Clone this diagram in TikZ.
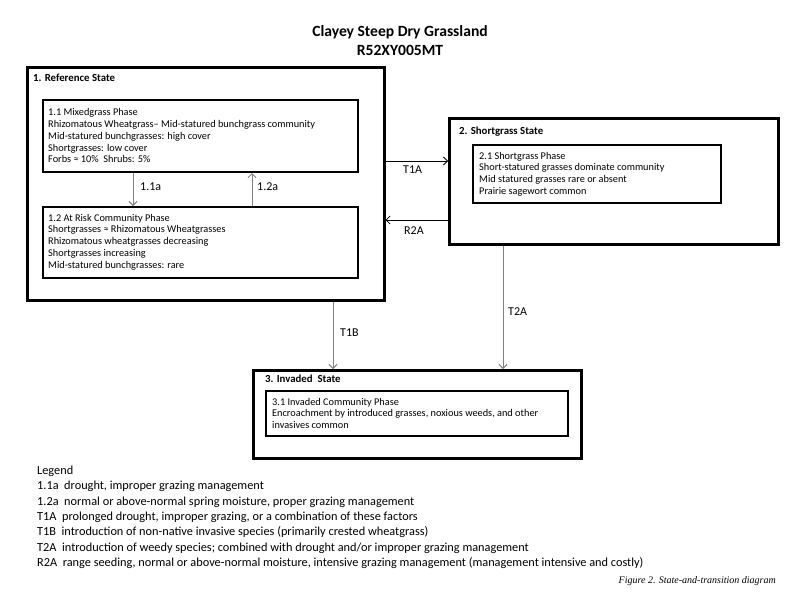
\documentclass[tikz,border=0pt]{standalone}
\usepackage{fontspec}
\setmainfont{Carlito}
\newfontfamily\capfont{Liberation Serif}
\usetikzlibrary{arrows.meta}
\begin{document}
\begin{tikzpicture}[x=1pt,y=-1pt,
  statebox/.style={draw=black, line width=2.6pt, anchor=north west, inner sep=0pt},
  phasebox/.style={draw=black, line width=2pt, anchor=north west, inner sep=0pt},
  statelabel/.style={anchor=west, inner sep=0pt, font=\bfseries\fontsize{10.8}{12}\selectfont},
  phasetext/.style={anchor=north west, inner sep=0pt, align=left, font=\fontsize{10.3}{11.9}\selectfont},
  trans/.style={draw=gray, line width=0.9pt, -{Straight Barb[length=4pt,width=8pt]}},
  transk/.style={draw=black, line width=0.8pt, -{Straight Barb[length=4pt,width=8pt]}},
  elabel/.style={inner sep=0pt, font=\fontsize{12}{14}\selectfont},
  titletext/.style={inner sep=0pt, align=center, font=\bfseries\fontsize{15.6}{19}\selectfont},
  legendtext/.style={anchor=north west, inner sep=0pt, align=left, font=\fontsize{12.3}{15.4}\selectfont},
  captext/.style={anchor=east, inner sep=0pt, font=\capfont\itshape\fontsize{10}{12}\selectfont}
]
\useasboundingbox[fill=white] (0,0) rectangle (800,600);

% title
\node[titletext] (title) at (400,41) {Clayey Steep Dry Grassland\\R52XY005MT};

% states
\node[statebox, minimum width=357pt, minimum height=233pt] (s1) at (26,66) {};
\node[statebox, minimum width=329pt, minimum height=126pt] (s2) at (448,117) {};
\node[statebox, minimum width=328pt, minimum height=88pt] (s3) at (252,369) {};

\node[statelabel] (s1l) at (33,78) {1. Reference State};
\node[statelabel] (s2l) at (459,132) {2. Shortgrass State};
\node[statelabel] (s3l) at (265,379) {3. Invaded\ \ State};

% phases
\node[phasebox, minimum width=315pt, minimum height=72pt] (p11) at (42,99) {};
\node[phasebox, minimum width=315pt, minimum height=71pt] (p12) at (42,206) {};
\node[phasebox, minimum width=248pt, minimum height=58pt] (p21) at (472,144) {};
\node[phasebox, minimum width=302pt, minimum height=45pt] (p31) at (265,390) {};

\node[phasetext] (p11t) at (48,108) {1.1 Mixedgrass Phase\\
Rhizomatous Wheatgrass-- Mid-statured bunchgrass community\\
Mid-statured bunchgrasses: high cover\\
Shortgrasses: low cover\\
Forbs ≈ 10\%\ \ Shrubs: 5\%};

\node[phasetext] (p12t) at (48,213.7) {1.2 At Risk Community Phase\\
Shortgrasses ≈ Rhizomatous Wheatgrasses\\
Rhizomatous wheatgrasses decreasing\\
Shortgrasses increasing\\
Mid-statured bunchgrasses: rare};

\node[phasetext, font=\fontsize{10.3}{11.8}\selectfont] (p21t) at (479,151.7) {2.1 Shortgrass Phase\\
Short-statured grasses dominate community\\
Mid statured grasses rare or absent\\
Prairie sagewort common};

\node[phasetext, font=\fontsize{10.3}{11.8}\selectfont] (p31t) at (272,397.7) {3.1 Invaded Community Phase\\
Encroachment by introduced grasses, noxious weeds, and other\\
invasives common};

% connector positions
\coordinate (c11) at (133,0);
\coordinate (c12) at (252,0);
\coordinate (ct1a) at (0,161);
\coordinate (cr2a) at (0,220);
\coordinate (ct1b) at (333,0);
\coordinate (ct2a) at (503,0);

\draw[trans] (p11.south -| c11) -- (p12.north -| c11);
\draw[trans] (p12.north -| c12) -- (p11.south -| c12);
\draw[transk] (s1.east |- ct1a) -- (s2.west |- ct1a);
\draw[transk] (s2.west |- cr2a) -- (s1.east |- cr2a);
\draw[trans] (s1.south -| ct1b) -- (s3.north -| ct1b);
\draw[trans] (s2.south -| ct2a) -- (s3.north -| ct2a);

\node[elabel, anchor=west] (l11) at (140,187) {1.1a};
\node[elabel, anchor=west] (l12) at (257,187) {1.2a};
\node[elabel, anchor=west] (lt1a) at (403,170) {T1A};
\node[elabel, anchor=west] (lr2a) at (404,231) {R2A};
\node[elabel, anchor=west] (lt1b) at (340,333) {T1B};
\node[elabel, anchor=west] (lt2a) at (508,312) {T2A};

% legend
\node[legendtext] (legend) at (37,465.5) {Legend\\
1.1a\ \ drought, improper grazing management\\
1.2a\ \ normal or above-normal spring moisture, proper grazing management\\
T1A\ \ prolonged drought, improper grazing, or a combination of these factors\\
T1B\ \ introduction of non-native invasive species (primarily crested wheatgrass)\\
T2A\ \ introduction of weedy species; combined with drought and/or improper grazing management\\
R2A\ \ range seeding, normal or above-normal moisture, intensive grazing management (management intensive and costly)};

\node[captext] (cap) at (776,581) {Figure 2. State-and-transition diagram};
\end{tikzpicture}
\end{document}
